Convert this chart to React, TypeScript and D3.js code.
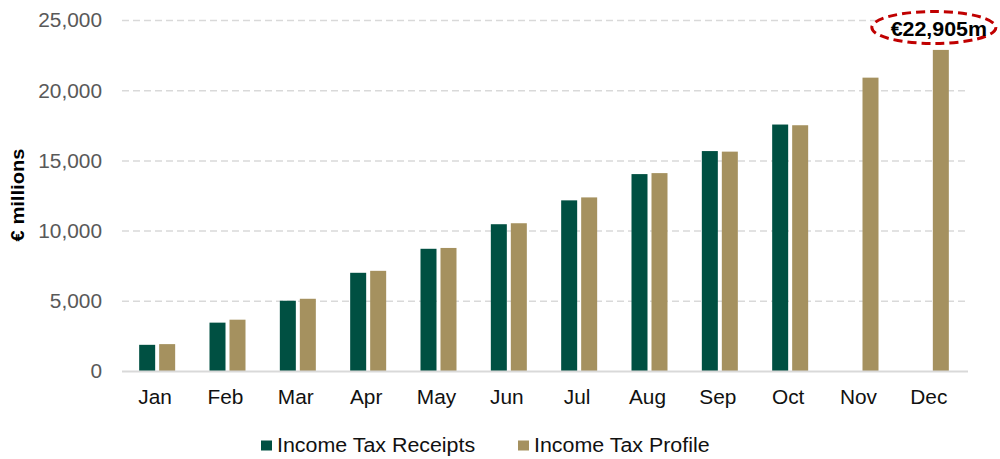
import React from 'react';
import * as d3 from 'd3';

const months = ['Jan', 'Feb', 'Mar', 'Apr', 'May', 'Jun', 'Jul', 'Aug', 'Sep', 'Oct', 'Nov', 'Dec'];
const receipts: (number | null)[] = [1900, 3480, 5040, 7030, 8740, 10490, 12190, 14060, 15700, 17590, null, null];
const profile = [1950, 3690, 5180, 7170, 8800, 10560, 12400, 14130, 15660, 17540, 20930, 22905];
const yTicks = [0, 5000, 10000, 15000, 20000, 25000];
const seriesNames = ['Income Tax Receipts', 'Income Tax Profile'];
const seriesColors = ['#005042', '#a5915f'];
const annotation = '€22,905m';

const W = 1000;
const H = 459;
const font = 'Arial, "Liberation Sans", sans-serif';

// the reference text is a little wider than it is tall, so stretch it sideways
const SX = 1.07;
const Label = ({ x, y, anchor = 'start', size, weight = 'normal', fill, dy, children }: any) => (
  <text transform={`translate(${x},${y}) scale(${SX},1)`} dy={dy} textAnchor={anchor}
    fontFamily={font} fontSize={size} fontWeight={weight} fill={fill}>{children}</text>
);

const App = () => {
  const x = d3.scaleBand().domain(months).range([122, 966]).padding(0);
  const y = d3.scaleLinear().domain([0, 25000]).range([371.5, 20.5]);
  // two bars per month, 16px wide with a 4px gap
  const inner = d3.scaleBand().domain(['r', 'p']).range([-18, 18]).paddingInner(0.2);
  const fmt = d3.format(',');

  const lastIdx = profile.length - 1;
  const annX = x(months[lastIdx])! + x.bandwidth() / 2 + 3;

  return (
    <svg width={W} height={H} style={{ position: 'absolute', left: 0, top: 0, background: '#fff' }}>
      {/* gridlines */}
      {yTicks.filter(t => t > 0).map(t => (
        <line key={t} x1={122} x2={968} y1={y(t)} y2={y(t)}
          stroke="#d9d9d9" strokeWidth={1.5} strokeDasharray="7,4" />
      ))}
      {/* y tick labels */}
      {yTicks.map(t => (
        <Label key={t} x={102} y={y(t)} dy="0.35em" anchor="end" size={19.5} fill="#595959">{fmt(t)}</Label>
      ))}
      {/* bars */}
      {months.map((m, i) => {
        const cx = x(m)! + x.bandwidth() / 2;
        return (
          <g key={m}>
            {receipts[i] != null && (
              <rect x={cx + inner('r')!} y={y(receipts[i]!)} width={inner.bandwidth()}
                height={y(0) - y(receipts[i]!)} fill={seriesColors[0]} />
            )}
            <rect x={cx + inner('p')!} y={y(profile[i])} width={inner.bandwidth()}
              height={y(0) - y(profile[i])} fill={seriesColors[1]} />
            <Label x={cx - 2} y={404} anchor="middle" size={19.5} fill="#111">{m}</Label>
          </g>
        );
      })}
      {/* axis line */}
      <line x1={122} x2={968} y1={y(0)} y2={y(0)} stroke="#d9d9d9" strokeWidth={2} />
      {/* y axis title */}
      <text transform="translate(24,195) rotate(-90) scale(1.06,1)" textAnchor="middle" fontFamily={font}
        fontSize={19} fontWeight="bold" fill="#000">€ millions</text>
      {/* annotation */}
      <ellipse cx={annX} cy={27.5} rx={62} ry={16} fill="#fff" stroke="#c00000"
        strokeWidth={3} strokeDasharray="9,5" />
      <Label x={annX + 5} y={35.5} anchor="middle" size={20} weight="bold" fill="#000">{annotation}</Label>
      {/* legend */}
      <rect x={261} y={440.5} width={11} height={10} fill={seriesColors[0]} />
      <Label x={277} y={451.5} size={20} fill="#111">{seriesNames[0]}</Label>
      <rect x={518} y={440.5} width={11} height={10} fill={seriesColors[1]} />
      <Label x={534} y={451.5} size={20} fill="#111">{seriesNames[1]}</Label>
    </svg>
  );
};

export default App;
